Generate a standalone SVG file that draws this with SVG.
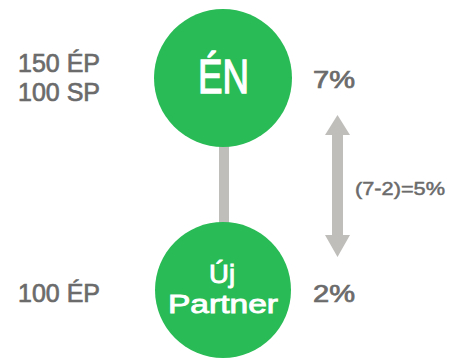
<svg xmlns="http://www.w3.org/2000/svg" width="452" height="358" viewBox="0 0 452 358">
<style>
.node{fill:#29bb55}
.ntxt{font-family:"Liberation Sans",Arial,sans-serif;font-weight:400;fill:#ffffff;stroke:#ffffff;stroke-width:0.9}
.lbl{font-family:"Liberation Sans",Arial,sans-serif;font-weight:400;fill:#6b6b6b;stroke:#6b6b6b;stroke-width:0.7}
.conn{fill:#bfbebb}
</style>
<rect width="452" height="358" fill="#ffffff"/>
<g id="connectors">
<rect class="conn" x="219" y="140" width="10" height="90"/>
<polygon class="conn" points="337.5,115 350,135 343,135 343,235 350,235 337.5,257 325,235 332,235 332,135 325,135"/>
</g>
<g id="node-en">
<circle class="node" cx="223" cy="78" r="69"/>
<text class="ntxt" x="198" y="93" font-size="48" textLength="51" lengthAdjust="spacingAndGlyphs" style="stroke-width:1.4">ÉN</text>
</g>
<g id="node-partner">
<circle class="node" cx="223" cy="290" r="68"/>
<text class="ntxt" x="209" y="283" font-size="26" textLength="26" lengthAdjust="spacingAndGlyphs">Új</text>
<text class="ntxt" x="168" y="313" font-size="26" textLength="110" lengthAdjust="spacingAndGlyphs">Partner</text>
</g>
<g id="labels">
<text class="lbl" x="18" y="72" font-size="26" textLength="82" lengthAdjust="spacingAndGlyphs">150 ÉP</text>
<text class="lbl" x="18" y="101" font-size="26" textLength="82" lengthAdjust="spacingAndGlyphs">100 SP</text>
<text class="lbl" x="18" y="302" font-size="26" textLength="82" lengthAdjust="spacingAndGlyphs">100 ÉP</text>
<text class="lbl" x="313" y="88" font-size="23" textLength="42" lengthAdjust="spacingAndGlyphs">7%</text>
<text class="lbl" x="313" y="302" font-size="23" textLength="42" lengthAdjust="spacingAndGlyphs">2%</text>
<text class="lbl" x="355" y="195" font-size="19" textLength="90" lengthAdjust="spacingAndGlyphs" style="stroke-width:0.5">(7-2)=5%</text>
</g>
</svg>
